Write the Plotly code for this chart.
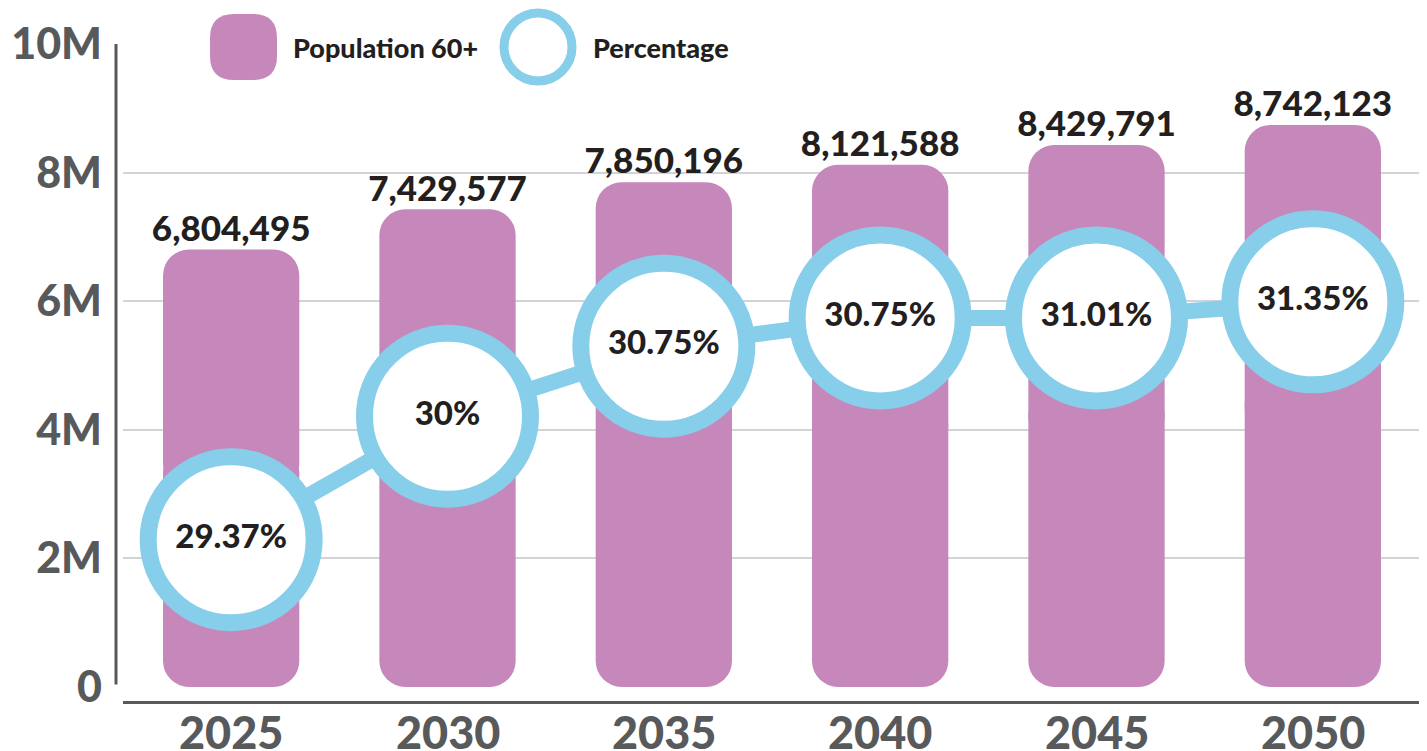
import plotly.graph_objects as go

# ---------------- data ----------------
years = ["2025", "2030", "2035", "2040", "2045", "2050"]
population = [6804495, 7429577, 7850196, 8121588, 8429791, 8742123]
pct_labels = ["29.37%", "30%", "30.75%", "30.75%", "31.01%", "31.35%"]
# vertical level at which each percentage bubble is drawn (in people units)
pct_marker_level = [2.29e6, 4.21e6, 5.30e6, 5.74e6, 5.74e6, 5.99e6]
y_tickvals = [0, 2e6, 4e6, 6e6, 8e6, 10e6]
y_ticktext = ["0", "2M", "4M", "6M", "8M", "10M"]

# ---------------- style ----------------
PURPLE = "#C688BA"
BLUE = "#87CEEB"
DARK = "#231F20"
GRAY = "#58595B"
GRID = "#D1D3D4"
FONT = "Lato"

OFF = 8  # default page body margin
W, H = 1427 - OFF, 751 - OFF
# plot area in screen pixels: x 123..1421, y 44..701
L, T = 123 - OFF, 44 - OFF
R = W - (1421 - OFF)
B = H - (701 - OFF)


def px2x(px):
    return (px - OFF - L) / (W - L - R)


def py2y(py):
    return (H - B - (py - OFF)) / (H - T - B)


fig = go.Figure()

# bars in two overlapping halves so both ends are rounded
upper_base = [p * 0.45 for p in population]
upper_len = [p * 0.55 for p in population]
lower_base = [p * 0.55 for p in population]
lower_len = [-p * 0.55 for p in population]

fig.add_trace(go.Bar(x=years, y=lower_len, base=lower_base, marker=dict(color=PURPLE, line=dict(width=0), cornerradius=26),
                     width=0.63, showlegend=False, hoverinfo="skip"))
fig.add_trace(go.Bar(x=years, y=upper_len, base=upper_base, marker=dict(color=PURPLE, line=dict(width=0), cornerradius=26),
                     width=0.63, showlegend=False, name="Population 60+",
                     customdata=population, hovertemplate="%{x}: %{customdata:,}<extra></extra>"))

# percentage line with bubbles
fig.add_trace(go.Scatter(
    x=years, y=pct_marker_level, mode="lines+markers+text",
    line=dict(color=BLUE, width=16),
    marker=dict(size=166, color="white", line=dict(color=BLUE, width=17)),
    text=pct_labels, textposition="middle center",
    textfont=dict(family=FONT, size=33, color=DARK, weight=900),
    showlegend=False, name="Percentage", hoverinfo="skip"))

# value labels above bars
fig.add_trace(go.Scatter(
    x=years, y=population, mode="text",
    text=[f"{p:,}" for p in population], textposition="top center",
    textfont=dict(family=FONT, size=35, color=DARK, weight=900),
    showlegend=False, hoverinfo="skip"))

shapes = []
# y axis line
shapes.append(dict(type="line", xref="paper", yref="y", x0=px2x(116), x1=px2x(116), y0=0.04e6, y1=10e6,
                   line=dict(color=GRAY, width=3), layer="above"))
# legend background
shapes.append(dict(type="rect", xref="paper", yref="paper", x0=px2x(186), x1=px2x(757), y0=py2y(60), y1=py2y(30),
                   fillcolor="white", line=dict(width=0), layer="above"))


def rounded_rect_path(x0, y0, x1, y1, r):
    # pixel coords -> paper coords path with quadratic corners
    pts = [
        ("M", (x0 + r, y0)), ("L", (x1 - r, y0)), ("Q", (x1, y0), (x1, y0 + r)),
        ("L", (x1, y1 - r)), ("Q", (x1, y1), (x1 - r, y1)), ("L", (x0 + r, y1)),
        ("Q", (x0, y1), (x0, y1 - r)), ("L", (x0, y0 + r)), ("Q", (x0, y0), (x0 + r, y0)),
    ]
    s = ""
    for item in pts:
        cmd = item[0]
        coords = " ".join(f"{px2x(p[0]):.5f},{py2y(p[1]):.5f}" for p in item[1:])
        s += f"{cmd}{coords} "
    return s + "Z"


shapes.append(dict(type="path", xref="paper", yref="paper", path=rounded_rect_path(210, 14, 277, 80, 24),
                   fillcolor=PURPLE, line=dict(width=0), layer="above"))
cx, cy, rr = 538, 47, 34
shapes.append(dict(type="circle", xref="paper", yref="paper", x0=px2x(cx - rr), x1=px2x(cx + rr),
                   y0=py2y(cy + rr), y1=py2y(cy - rr), fillcolor="white", line=dict(color=BLUE, width=9),
                   layer="above"))

annotations = [
    dict(xref="paper", yref="paper", x=px2x(291), y=py2y(47), text="Population 60+", showarrow=False,
         xanchor="left", yanchor="middle", font=dict(family=FONT, size=27, color=DARK, weight=900)),
    dict(xref="paper", yref="paper", x=px2x(591), y=py2y(47), text="Percentage", showarrow=False,
         xanchor="left", yanchor="middle", font=dict(family=FONT, size=27, color=DARK, weight=900)),
]
# category labels under the axis (positioned by category index)
for i, yr in enumerate(years):
    annotations.append(dict(xref="x", yref="paper", x=i, y=py2y(732), text=yr, showarrow=False,
                            xanchor="center", yanchor="middle",
                            font=dict(family=FONT, size=45, color=GRAY, weight=900)))

fig.update_layout(
    width=W, height=H,
    margin=dict(l=L, r=R, t=T, b=B, pad=0),
    paper_bgcolor="white", plot_bgcolor="white",
    barmode="overlay",
    shapes=shapes, annotations=annotations,
    showlegend=False,
    xaxis=dict(type="category", range=[-0.5, 5.5], showgrid=False, showline=True, linecolor=GRAY, linewidth=3,
               automargin=False, showticklabels=False, ticks=""),
    yaxis=dict(range=[-0.218e6, 10e6], tickvals=y_tickvals, ticktext=y_ticktext, showgrid=True, gridcolor=GRID,
               automargin=False,
               gridwidth=2, zeroline=True, zerolinecolor="white", zerolinewidth=3, showline=False, ticks="",
               tickfont=dict(family=FONT, size=43, color=GRAY, weight=900), ticklabelstandoff=20),
)

fig.write_html("out.html")
